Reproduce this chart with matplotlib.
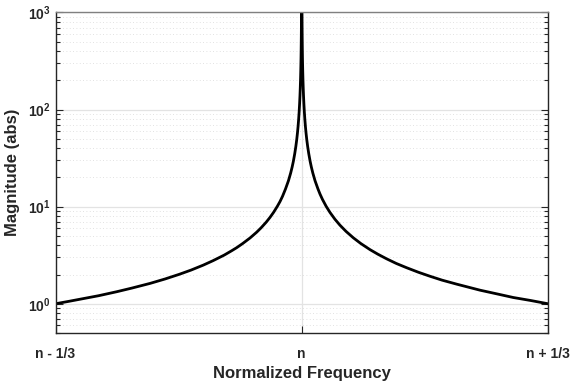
import numpy as np
import matplotlib
matplotlib.use("Agg")
import matplotlib.pyplot as plt
from matplotlib.ticker import LogLocator, NullFormatter, FixedLocator

# Data (frequency offset from n, magnitude)
freq_left = [-0.3333, -0.315, -0.2957, -0.275, -0.2505, -0.23, -0.2054,
             -0.185, -0.1658, -0.15, -0.1333, -0.12, -0.105, -0.095,
             -0.0881, -0.08, -0.07, -0.061, -0.055, -0.048, -0.043,
             -0.038, -0.033, -0.0294, -0.026, -0.022, -0.018, -0.015,
             -0.013, -0.0114, -0.0095, -0.008, -0.0068, -0.0058, -0.005,
             -0.0042, -0.0035, -0.0029, -0.0024, -0.002, -0.0016, -0.0013,
             -0.001, -0.0008, -0.0006, -0.00045, -0.00033, 0.0]
mag_left = [1.00, 1.06, 1.13, 1.21, 1.33, 1.45, 1.62,
            1.80, 2.01, 2.22, 2.50, 2.78, 3.17, 3.51,
            3.78, 4.17, 4.76, 5.46, 6.06, 6.94, 7.75,
            8.77, 10.1, 11.3, 12.8, 15.2, 18.5, 22.2,
            25.6, 29.2, 35.1, 41.7, 49.0, 57.5, 66.7,
            79.4, 95.2, 115.0, 139.0, 167.0, 208.0, 256.0,
            333.0, 416.0, 555.0, 740.0, 1010.0, 5000.0]
freq_right = [0.00033, 0.00045, 0.0006, 0.0008, 0.001, 0.0013, 0.0016,
              0.002, 0.0024, 0.0029, 0.0035, 0.0042, 0.005, 0.0058,
              0.0068, 0.008, 0.0095, 0.0114, 0.013, 0.015, 0.018,
              0.022, 0.0247, 0.028, 0.033, 0.0382, 0.045, 0.0517,
              0.06, 0.0698, 0.08, 0.0924, 0.103, 0.115, 0.128,
              0.142, 0.158, 0.1736, 0.19, 0.21, 0.2413, 0.265,
              0.2863, 0.31, 0.3333]
mag_right = [1010.0, 740.0, 555.0, 416.0, 333.0, 256.0, 208.0,
             167.0, 139.0, 115.0, 95.2, 79.4, 66.7, 57.5,
             49.0, 41.7, 35.1, 29.2, 25.6, 22.2, 18.5,
             15.2, 13.5, 11.9, 10.1, 8.73, 7.41, 6.45,
             5.56, 4.78, 4.17, 3.61, 3.24, 2.90, 2.60,
             2.35, 2.11, 1.92, 1.75, 1.59, 1.38, 1.26,
             1.16, 1.08, 1.00]

x_ticks = [-1/3, 0, 1/3]
x_labels = ["n - 1/3", "n", "n + 1/3"]

freq = freq_left + freq_right
mag = mag_left + mag_right

plt.rcParams['font.family'] = ['Liberation Sans', 'DejaVu Sans']

fig = plt.figure(figsize=(5.71, 3.88), dpi=100)
ax = fig.add_axes([0.0972, 0.1418, 0.8625, 0.826])

ax.plot(freq, mag, color='black', lw=2.0, solid_joinstyle='round')

ax.set_yscale('log')
ax.set_xlim(-1/3, 1/3)
ax.set_ylim(0.5, 1000)

ax.xaxis.set_major_locator(FixedLocator(x_ticks))
ax.set_xticklabels(x_labels, fontsize=10, fontweight='bold', color='#262626')
ax.yaxis.set_major_locator(LogLocator(base=10, numticks=10))
ax.yaxis.set_minor_locator(LogLocator(base=10, subs=np.arange(2, 10), numticks=20))
ax.yaxis.set_minor_formatter(NullFormatter())
for lab in ax.get_yticklabels():
    lab.set_fontweight('bold')
ax.tick_params(axis='y', which='major', labelsize=10, colors='#262626',
               direction='in', length=5, right=True, width=0.8)
ax.tick_params(axis='y', which='minor', direction='in', length=3, right=True,
               width=0.8, colors='#262626')
ax.tick_params(axis='x', which='major', direction='in', length=5, top=False,
               pad=10, colors='#262626', width=0.8)

# grid
ax.grid(True, which='major', axis='both', color='#e3e3e3', lw=0.9, ls='-')
ax.grid(True, which='minor', axis='y', color='#d8d8d8', lw=0.6, ls=(0, (1, 3)))
ax.set_axisbelow(True)

for s in ['left', 'bottom', 'right']:
    ax.spines[s].set_color('#262626')
    ax.spines[s].set_linewidth(1.0)
ax.spines['top'].set_color('#808080')
ax.spines['top'].set_linewidth(1.0)

ax.set_xlabel('Normalized Frequency', fontsize=12, fontweight='bold',
              color='#262626', labelpad=4)
ax.set_ylabel('Magnitude (abs)', fontsize=12, fontweight='bold',
              color='#262626', labelpad=6)

fig.savefig('out.png', dpi=100, facecolor='white')
